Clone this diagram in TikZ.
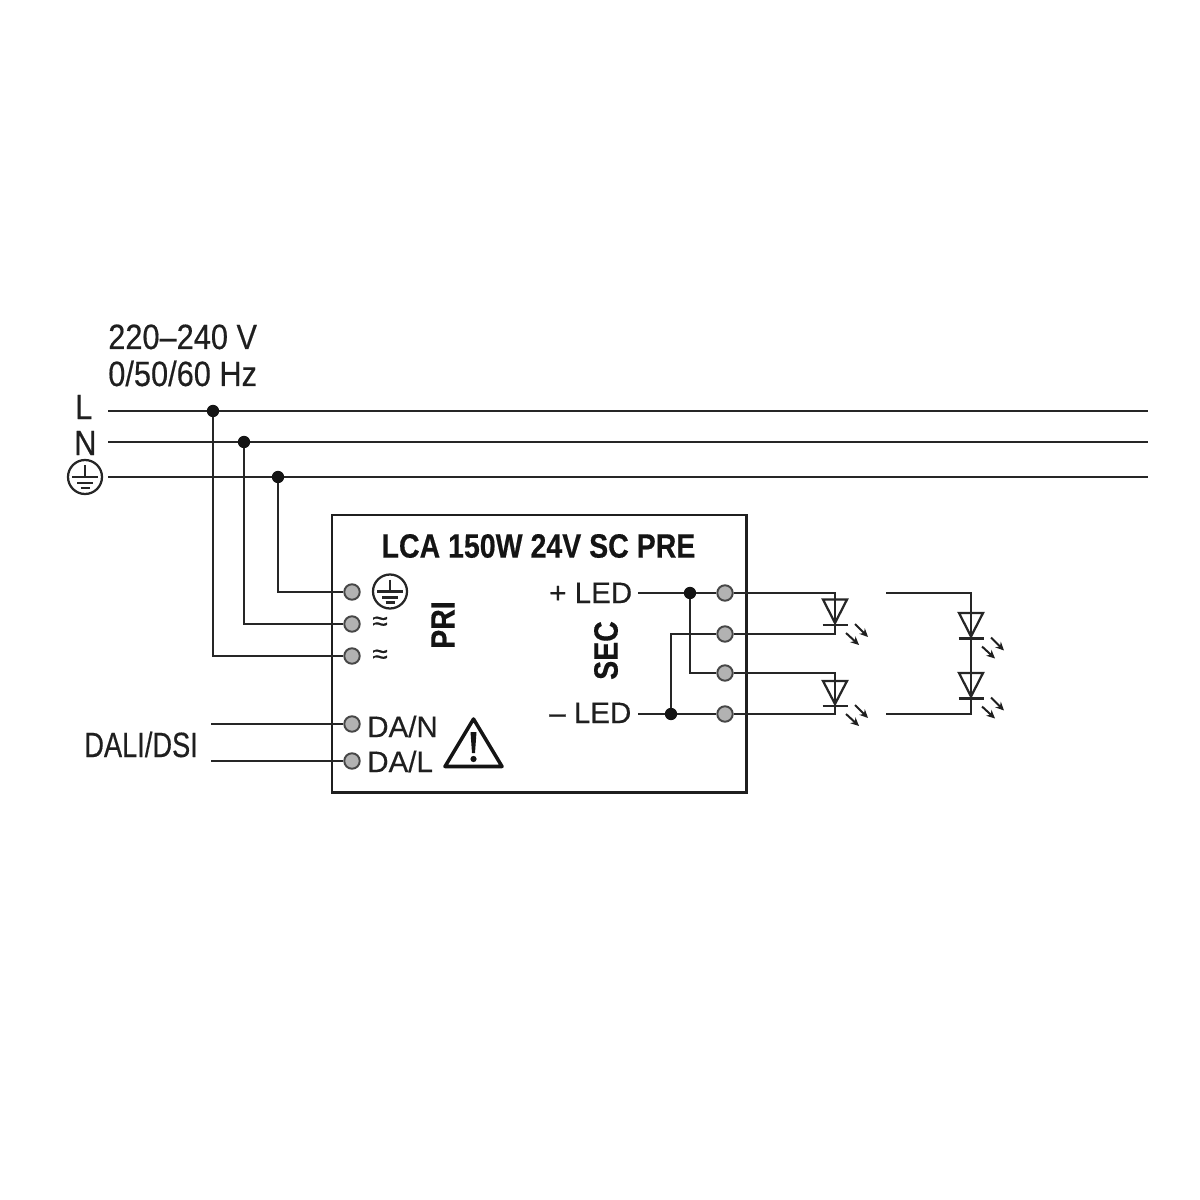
\documentclass[tikz,border=0pt]{standalone}
\usepackage{fontspec}
\setmainfont[FakeStretch=0.875,FakeBold=0.35,BoldFont={Liberation Sans Bold},BoldFeatures={FakeStretch=0.845}]{Liberation Sans}
\newfontfamily\widefam[FakeBold=0.35]{Liberation Sans}
\newfontfamily\narrowfam[FakeStretch=0.775,FakeBold=0.35]{Liberation Sans}
\usetikzlibrary{arrows.meta}
\tikzset{
  wire/.style={line width=1.8pt,draw=black!85},
  thin wire/.style={line width=1.6pt,draw=black!85},
  term/.style={circle,draw=black!72,line width=1.4pt,fill=black!30,minimum size=11pt,inner sep=0pt},
  jdot/.style={circle,fill=black!92,minimum size=8.8pt,inner sep=0pt},
  lbl/.style={anchor=base west,inner sep=0pt,text=black!88,font=\fontsize{25}{30}\selectfont},
  mid/.style={anchor=base west,inner sep=0pt,text=black!88,font=\widefam\fontsize{21}{25}\selectfont},
  head/.style={inner sep=0pt,text=black!92,font=\fontsize{24}{28}\selectfont\bfseries},
  arr/.style={line width=1.4pt,draw=black!88,-{Stealth[length=6pt,width=5.6pt]}}
}
\newcommand{\earthsym}[2]{%
  \draw[thin wire] (#1,#2) circle (17);
  \draw[thin wire] (#1-13,#2) -- (#1+13,#2);
  \draw[thin wire] (#1,#2-12) -- (#1,#2);
  \draw[thin wire] (#1-8,#2+6) -- (#1+8,#2+6);
  \draw[thin wire] (#1-4.5,#2+11) -- (#1+4.5,#2+11);
}
\newcommand{\ledsym}[3]{% x, triangle top y, bar y
  \draw[thin wire,line join=miter] (#1-12,#2) -- (#1+12,#2) -- (#1,#3-2) -- cycle;
  \draw[thin wire] (#1-12.5,#3) -- (#1+12.5,#3);
  \draw[arr] (#1+20,#3-1) -- (#1+33,#3+12);
  \draw[arr] (#1+11,#3+8) -- (#1+24,#3+20);
}
\begin{document}
\begin{tikzpicture}[x=0.025cm,y=-0.025cm]
\useasboundingbox (0,0) rectangle (1200,1200);
% mains
\coordinate (Ls) at (108,411); \coordinate (Le) at (1148,411);
\coordinate (Ns) at (108,442); \coordinate (Ne) at (1148,442);
\coordinate (Es) at (108,477); \coordinate (Ee) at (1148,477);
\draw[wire] (Ls) -- (Le);
\draw[wire] (Ns) -- (Ne);
\draw[wire] (Es) -- (Ee);
\node[lbl] (volt) at (108,349) {220–240 V};
\node[lbl] (freq) at (108,386) {0/50/60 Hz};
\node[lbl] (lL) at (75,419) {L};
\node[lbl] (lN) at (74,455) {N};
\earthsym{85}{477}
% box
\node[draw=black!88,line width=2.1pt,minimum width=294.5pt,minimum height=197pt,inner sep=0pt,outer sep=0pt,anchor=north west] (box) at (332,515) {};
\node[head] (title) at (538.5,546) {LCA 150W 24V SC PRE};
% terminals
\node[term] (pe) at (352,592) {};
\node[term] (pn) at (352,624) {};
\node[term] (pl) at (352,656) {};
\node[term] (dn) at (352,724) {};
\node[term] (dl) at (352,761) {};
\node[term] (s1) at (725,593) {};
\node[term] (s2) at (725,634) {};
\node[term] (s3) at (725,673) {};
\node[term] (s4) at (725,714) {};
% junctions
\node[jdot] (jl) at (213,411) {};
\node[jdot] (jn) at (244,442) {};
\node[jdot] (je) at (278,477) {};
\node[jdot] (jp) at (690,593) {};
\node[jdot] (jm) at (671,714) {};
% primary wiring
\draw[wire] (je) |- (pe);
\draw[wire] (jn) |- (pn);
\draw[wire] (jl) |- (pl);
\coordinate (da1) at (211,724); \coordinate (da2) at (211,761);
\draw[wire] (da1) -- (dn);
\draw[wire] (da2) -- (dl);
% secondary labels
\node[mid] (plus) at (549,603) {+ LED};
\node[mid] (minus) at (549,723) {– LED};
\coordinate (p0) at (638,593); \coordinate (m0) at (638,714);
\draw[wire] (p0) -- (jp) -- (s1);
\draw[wire] (m0) -- (jm) -- (s4);
\draw[wire] (jp) |- (s3);
\draw[wire] (jm) |- (s2);
% LED groups
\coordinate (a1) at (835,593); \coordinate (b1) at (835,634);
\coordinate (a2) at (835,673); \coordinate (b2) at (835,714);
\draw[wire] (s1) -- (a1) -- (b1) -- (s2);
\draw[wire] (s3) -- (a2) -- (b2) -- (s4);
\ledsym{835}{599.5}{625}
\ledsym{835}{681}{706}
% LED chain
\coordinate (c1) at (886,593); \coordinate (c2) at (971,593);
\coordinate (c3) at (971,714); \coordinate (c4) at (886,714);
\draw[wire] (c1) -- (c2) -- (c3) -- (c4);
\ledsym{971}{613}{638.5}
\ledsym{971}{673}{698.5}
% box texts
\earthsym{390}{591.5}
\node[inner sep=0pt,font=\widefam\fontsize{20}{20}\selectfont,text=black!88] (t1) at (380,623.5) {≈};
\node[inner sep=0pt,font=\widefam\fontsize{20}{20}\selectfont,text=black!88] (t2) at (380,656.5) {≈};
\node[head,rotate=90] (pri) at (443,625) {PRI};
\node[head,rotate=90] (sec) at (606,650.5) {SEC};
\node[mid] (dan) at (367,737) {DA/N};
\node[mid] (dal) at (367,772) {DA/L};
\node[lbl,font=\narrowfam\fontsize{25}{30}\selectfont] (dali) at (84,757) {DALI/DSI};
% warning
\draw[black!92,line width=2.5pt,line join=round] (473.5,719) -- (502,766.5) -- (445,766.5) -- cycle;
\fill[black!92] (470.5,732) -- (476.5,732) -- (475,753) -- (472,753) -- cycle;
\fill[black!92] (473.5,759) circle (3.1);
\end{tikzpicture}
\end{document}
